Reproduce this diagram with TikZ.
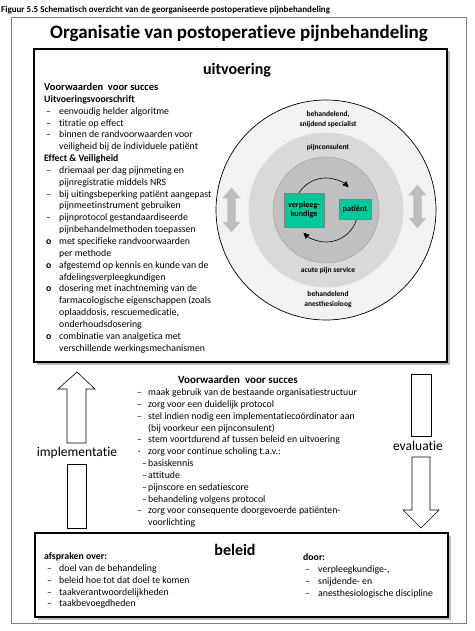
\documentclass[tikz,border=0pt]{standalone}
\usepackage{fontspec}
\setmainfont{Carlito}[Ligatures=NoCommon]
\usepackage{xcolor}
\definecolor{kern}{HTML}{00C99A}
\definecolor{ringbuiten}{HTML}{F2F2F2}
\definecolor{ringmidden}{HTML}{D9D9D9}
\definecolor{ringbinnen}{HTML}{C0C0C0}
\definecolor{pijlgrijs}{HTML}{BDBDBD}
\usepackage{tikz}
\usetikzlibrary{arrows.meta, positioning, calc}

\begin{document}
\begin{tikzpicture}[x=1pt, y=-1pt,
  frame/.style={draw=black, line width=1.5pt, fill=white},
  schaduw/.style={fill=gray!55},
  ring/.style={circle, fill=#1, inner sep=0pt},
  kernbox/.style={draw=gray, fill=kern, line width=0.8pt, inner sep=1pt,
    font=\bfseries\fontsize{8.2}{9.5}\selectfont, align=center},
  ringlabel/.style={font=\bfseries\fontsize{7.5}{10}\selectfont, align=center},
  lijst/.style={anchor=north west, inner sep=0pt, font=\fontsize{9.8}{11.85}\selectfont},
  openpijl/.style={draw=black, fill=white, line width=0.6pt},
  grijspijl/.style={draw=gray!45, fill=pijlgrijs, line width=0.5pt},
  kop/.style={font=\bfseries\fontsize{#1}{#1}\selectfont, inner sep=0pt}
]
  \useasboundingbox (0,0) rectangle (474,631);

  \node[anchor=west, inner sep=0pt, font=\bfseries\fontsize{9}{10}\selectfont] (figuur) at (1,10)
    {Figuur 5.5 Schematisch overzicht van de georganiseerde postoperatieve pijnbehandeling};
  \draw[gray, line width=0.8pt] (11,17) rectangle (466,623);
  \node[kop=19] (titel) at (239,33) {Organisatie van postoperatieve pijnbehandeling};

  \fill[schaduw] (36.5,51.5) rectangle (449.5,364.5);
  \draw[frame] (34,49) rectangle (447,362);
  \node[kop=16] (uitvoering) at (237,70) {uitvoering};

  \node[lijst] (uitvoeringlijst) at (44,82) {%
    \begin{tabular}{@{}p{15pt}@{}l@{}}
      \multicolumn{2}{@{}l@{}}{\bfseries\fontsize{10.5}{11.85}\selectfont Voorwaarden\ \ voor succes}\\
      \multicolumn{2}{@{}l@{}}{\bfseries Uitvoeringsvoorschrift}\\
      \hspace{2pt}– & eenvoudig helder algoritme\\
      \hspace{2pt}– & titratie op effect\\
      \hspace{2pt}– & binnen de randvoorwaarden voor\\
                    & veiligheid bij de individuele patiënt\\
      \multicolumn{2}{@{}l@{}}{\bfseries Effect \& Veiligheid}\\
      \hspace{2pt}– & driemaal per dag pijnmeting en\\
                    & pijnregistratie middels NRS\\
      \hspace{2pt}– & bij uitingsbeperking patiënt aangepast\\
                    & pijnmeetinstrument gebruiken\\
      \hspace{2pt}– & pijnprotocol gestandaardiseerde\\
                    & pijnbehandelmethoden toepassen\\
      \hspace{2pt}\textbf{o} & met specifieke randvoorwaarden\\
                    & per methode\\
      \hspace{2pt}\textbf{o} & afgestemd op kennis en kunde van de\\
                    & afdelingsverpleegkundigen\\
      \hspace{2pt}\textbf{o} & dosering met inachtneming van de\\
                    & farmacologische eigenschappen (zoals\\
                    & oplaaddosis, rescuemedicatie,\\
                    & onderhoudsdosering\\
      \hspace{2pt}\textbf{o} & combinatie van analgetica met\\
                    & verschillende werkingsmechanismen
    \end{tabular}};

  \node[ring=ringbuiten, draw=black, line width=0.7pt, minimum size=220pt] (buiten) at (326,210) {};
  \node[ring=ringmidden, minimum size=155pt] (midden) at (326,210) {};
  \node[ring=ringbinnen, draw=gray!80, line width=0.4pt, minimum size=106pt] (binnen) at (326,210) {};

  \node[ringlabel] (specialist) at (328,120) {behandelend,\\snijdend specialist};
  \node[ringlabel] (consulent) at (328,148) {pijnconsulent};
  \node[ringlabel] (aps) at (328,271) {acute pijn service};
  \node[ringlabel] (anesthesioloog) at (328,299.5) {behandelend\\anesthesioloog};

  \draw[line width=0.6pt, -{Triangle[length=6pt, width=5.5pt]}] (binnen.center) ++(190:32) arc[start angle=190, end angle=315, radius=32];
  \draw[line width=0.6pt, -{Triangle[length=6pt, width=5.5pt]}] (binnen.center) ++(10:32) arc[start angle=10, end angle=135, radius=32];

  \node[kernbox, minimum width=40pt, minimum height=34pt] (verpleeg) at (304,210) {verpleeg-\\kundige};
  \node[kernbox, minimum width=32pt, minimum height=20pt] (patient) at (355,209) {patiënt};

  \draw[grijspijl] (231.5,188) -- ++(8.5,10) -- ++(-4.5,0) -- ++(0,24) -- ++(4.5,0) -- ++(-8.5,10)
    -- ++(-8.5,-10) -- ++(4.5,0) -- ++(0,-24) -- ++(-4.5,0) -- cycle;
  \draw[grijspijl] (417.5,185) -- ++(8.5,10) -- ++(-4.5,0) -- ++(0,23) -- ++(4.5,0) -- ++(-8.5,10)
    -- ++(-8.5,-10) -- ++(4.5,0) -- ++(0,-23) -- ++(-4.5,0) -- cycle;

  \draw[openpijl] (77,372) -- (95,389) -- (86,389) -- (86,443) -- (67,443) -- (67,389) -- (58,389) -- cycle;
  \node[font=\fontsize{13.5}{13.5}\selectfont, inner sep=0pt] (implementatie) at (77,453) {implementatie};
  \draw[openpijl] (67,464) rectangle (86,528);

  \draw[openpijl] (411,374) rectangle (431,436);
  \node[font=\fontsize{13.5}{13.5}\selectfont, inner sep=0pt] (evaluatie) at (418,446) {evaluatie};
  \draw[openpijl] (412,457) -- (430,457) -- (430,510) -- (439,510) -- (421,528) -- (403,510) -- (412,510) -- cycle;

  \node[kop=11] (succes) at (238,380) {Voorwaarden\ \ voor succes};
  \node[lijst] (succeslijst) at (137,387) {%
    \begin{tabular}{@{}p{11pt}@{}l@{}}
      – & maak gebruik van de bestaande organisatiestructuur\\
      – & zorg voor een duidelijk protocol\\
      – & stel indien nodig een implementatiecoördinator aan\\
        & (bij voorkeur een pijnconsulent)\\
      – & stem voortdurend af tussen beleid en uitvoering\\
      \hspace{1pt}· & zorg voor continue scholing t.a.v.:\\
      \hspace{5pt}– & basiskennis\\
      \hspace{5pt}– & attitude\\
      \hspace{5pt}– & pijnscore en sedatiescore\\
      \hspace{5pt}– & behandeling volgens protocol\\
      – & zorg voor consequente doorgevoerde patiënten-\\
        & voorlichting
    \end{tabular}};

  \fill[schaduw] (37.5,535.5) rectangle (450.5,619.5);
  \draw[frame] (35,533) rectangle (448,617);
  \node[kop=16] (beleid) at (235,550) {beleid};

  \node[lijst] (afspraken) at (44,551) {%
    \begin{tabular}{@{}p{15pt}@{}l@{}}
      \multicolumn{2}{@{}l@{}}{\bfseries afspraken over:}\\
      \hspace{3pt}– & doel van de behandeling\\
      \hspace{3pt}– & beleid hoe tot dat doel te komen\\
      \hspace{3pt}– & taakverantwoordelijkheden\\
      \hspace{3pt}– & taakbevoegdheden
    \end{tabular}};
  \node[lijst] (door) at (303,552) {%
    \begin{tabular}{@{}p{15pt}@{}l@{}}
      \multicolumn{2}{@{}l@{}}{\bfseries door:}\\
      \hspace{2pt}– & verpleegkundige-,\\
      \hspace{2pt}– & snijdende- en\\
      \hspace{2pt}– & anesthesiologische discipline
    \end{tabular}};
\end{tikzpicture}
\end{document}
